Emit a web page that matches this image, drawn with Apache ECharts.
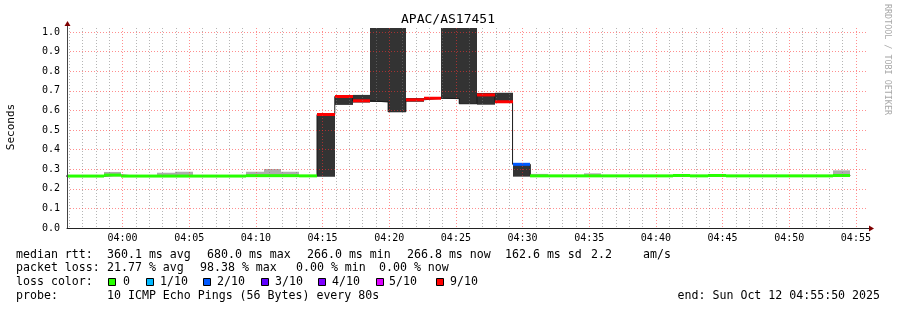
<!DOCTYPE html>
<html><head><meta charset="utf-8">
<script src="https://cdn.jsdelivr.net/npm/echarts@6/dist/echarts.min.js"></script>
<style>html,body{margin:0;padding:0;background:#fff}#c{width:897px;height:310px}</style>
</head><body><div id="c"></div>
<script>
// ---------------- data ----------------
const chartTitle = 'APAC/AS17451';
const windowStart = '03:55:50';
const windowEnd = '04:55:50';
const firstStep = '03:54:35';      // start of first 80 s probe round
const stepSeconds = 80;
const xTickLabels = ['04:00','04:05','04:10','04:15','04:20','04:25','04:30','04:35','04:40','04:45','04:50','04:55'];
const yTickValues = [0.0,0.1,0.2,0.3,0.4,0.5,0.6,0.7,0.8,0.9,1.0];

// median rtt per round (seconds)
const medianRtt = [
  0.265,0.265,0.265,0.270,0.265,0.265,0.265,0.265,0.265,0.265,0.265,0.267,0.267,0.267,0.266,
  0.579,0.671,0.649,0.643,0.593,0.654,0.662,0.660,0.634,0.679,0.644,0.325,
  0.266,0.266,0.266,0.266,0.266,0.266,0.266,0.266,0.268,0.266,0.268,0.266,0.266,0.266,0.266,0.266,0.266,0.268
];
// smoke (spread of the pings) per round, seconds
const smokeLow = [
  0.263,0.263,0.263,0.263,0.263,0.263,0.263,0.263,0.263,0.263,0.263,0.263,0.263,0.263,0.263,
  0.262,0.628,0.640,0.643,0.593,0.644,0.660,0.660,0.634,0.629,0.639,0.262,
  0.263,0.263,0.263,0.263,0.263,0.263,0.263,0.263,0.263,0.263,0.263,0.263,0.263,0.263,0.263,0.263,0.263,0.263
];
const smokeHigh = [
  0.268,0.268,0.268,0.286,0.268,0.268,0.282,0.287,0.268,0.268,0.268,0.287,0.301,0.287,0.268,
  0.580,0.673,0.679,1.500,1.500,0.663,0.668,1.500,1.500,0.689,0.690,0.325,
  0.276,0.268,0.268,0.279,0.268,0.268,0.268,0.268,0.268,0.268,0.268,0.268,0.268,0.268,0.268,0.268,0.268,0.294
];
// packet loss ratio per round
const lossRatio = [
  0,0,0,0,0,0,0,0,0,0,0,0,0,0,0,
  0.9,0.9,0.9,1.0,1.0,0.9,0.9,1.0,1.0,0.9,0.9,0.2,
  0,0,0,0,0,0,0,0,0,0,0,0,0,0,0,0,0,0
];
const lossLevels = [0, 0.1, 0.2, 0.3, 0.4, 0.5, 0.9];
const lossLabels = ['0','1/10','2/10','3/10','4/10','5/10','9/10'];
const lossColors = ['#26ff00','#00b8ff','#0059ff','#5e00ff','#7e00ff','#dd00ff','#ff0000'];

const rttStats = ['360.1 ms avg','680.0 ms max','266.0 ms min','266.8 ms now','162.6 ms sd','2.2','am/s'];
const lossStats = ['21.77 % avg','98.38 % max','0.00 % min','0.00 % now'];
const probeText = '10 ICMP Echo Pings (56 Bytes) every 80s';
const endText = 'end: Sun Oct 12 04:55:50 2025';
const watermark = 'RRDTOOL / TOBI OETIKER';

// ---------------- build ----------------
const MONO = '"DejaVu Sans Mono", monospace';
const toMin = s => { const p = s.split(':').map(Number); return p[0]*60 + p[1] + (p[2]||0)/60; };
const xMin = toMin(windowStart), xMax = toMin(windowEnd);
const stepMin = stepSeconds/60;
const t0 = toMin(firstStep);
const starts = medianRtt.map((_, i) => t0 + i*stepMin);
const majorTicks = xTickLabels.map(toMin);
const minorTicks = [];
for (let m = Math.ceil(xMin); m <= xMax; m++) if (m % 5 !== 0) minorTicks.push(m);

function lossColor(l){
  if (l >= 1) return null;
  let c = lossColors[0];
  for (let i = 0; i < lossLevels.length; i++) if (l >= lossLevels[i] - 1e-9) c = lossColors[i];
  return c;
}

const smokeData = starts.map((s,i) => [s, s+stepMin, smokeLow[i], smokeHigh[i], lossRatio[i]]);
const bandData = starts.map((s,i) => [s, s+stepMin, medianRtt[i], lossRatio[i]]);
const lineData = starts.map((s,i) => [s, medianRtt[i]]);
lineData.push([starts[starts.length-1] + stepMin, medianRtt[medianRtt.length-1]]);

function clip(shape, params){
  return echarts.graphic.clipRectByRect(shape, {
    x: params.coordSys.x, y: params.coordSys.y, width: params.coordSys.width, height: params.coordSys.height});
}

const gridRed = 'rgba(255,50,50,0.55)';
const gridGrey = 'rgba(120,120,120,0.55)';

const chart = echarts.init(document.getElementById('c'), null, {renderer:'canvas'});

const legendEls = [];
const txt = (t, x, y, extra) => Object.assign({type:'text', x, y, silent:true,
  style:{text:t, font:'11.6px ' + MONO, fill:'#000', align:'left', verticalAlign:'middle'}}, extra||{});
const rowY = [254.5, 268.2, 282.3, 296];
legendEls.push(txt('median rtt:', 16, rowY[0]));
const rttX = [107, 207, 307, 407, 505, 591, 643];
rttStats.forEach((t,i) => legendEls.push(txt(t, rttX[i], rowY[0])));
legendEls.push(txt('packet loss:', 16, rowY[1]));
const lossX = [107, 200, 296, 379];
lossStats.forEach((t,i) => legendEls.push(txt(t, lossX[i], rowY[1])));
legendEls.push(txt('loss color:', 16, rowY[2]));
const swX = [108.5, 146.5, 203.5, 261.5, 318.5, 376.5, 436.5];
const lblX = [123, 160, 217, 275, 332, 389, 450];
lossLabels.forEach((t,i) => {
  legendEls.push({type:'rect', silent:true, shape:{x:swX[i], y:278.5, width:7, height:7},
    style:{fill:lossColors[i], stroke:'#000', lineWidth:1}});
  legendEls.push(txt(t, lblX[i], rowY[2]));
});
legendEls.push(txt('probe:', 16, rowY[3]));
legendEls.push(txt(probeText, 107, rowY[3]));
legendEls.push(txt(endText, 880, rowY[3], {style:{text:endText, font:'11.6px ' + MONO, fill:'#000', align:'right', verticalAlign:'middle'}}));

// title, axis label, watermark, axis arrows
legendEls.push({type:'text', x:448, y:19.5, silent:true,
  style:{text:chartTitle, font:'13px ' + MONO, fill:'#000', align:'center', verticalAlign:'middle'}});
legendEls.push({type:'text', x:11, y:127, rotation:Math.PI/2, silent:true,
  style:{text:'Seconds', font:'11px ' + MONO, fill:'#000', align:'center', verticalAlign:'middle'}});
legendEls.push({type:'text', x:887.5, y:59.5, rotation:-Math.PI/2, silent:true,
  style:{text:watermark, font:'8.4px ' + MONO, fill:'#a8a8a8', align:'center', verticalAlign:'middle'}});
legendEls.push({type:'line', silent:true, z:20, shape:{x1:67.5, y1:28, x2:67.5, y2:25}, style:{stroke:'#444', lineWidth:1}});
legendEls.push({type:'line', silent:true, z:20, shape:{x1:867, y1:228.5, x2:870, y2:228.5}, style:{stroke:'#222', lineWidth:1}});
legendEls.push({type:'polygon', silent:true, z:20, shape:{points:[[64.5,26],[70.5,26],[67.5,21]]}, style:{fill:'#7f0000'}});
legendEls.push({type:'polygon', silent:true, z:20, shape:{points:[[869,225.5],[869,231.5],[874,228.5]]}, style:{fill:'#7f0000'}});

const option = {
  animation: false,
  backgroundColor: '#ffffff',
  grid: {left:67, top:28, width:800, height:200, containLabel:false},
  xAxis: [
    {type:'value', min:xMin, max:xMax, z:10, position:'bottom',
     axisLine:{show:true, onZero:false, lineStyle:{color:'#222', width:1}},
     axisTick:{show:false, customValues:majorTicks},
     axisLabel:{customValues:majorTicks, color:'#000', fontFamily:MONO, fontSize:10, margin:5,
       formatter: v => { const i = majorTicks.findIndex(t => Math.abs(t - v) < 1e-6); return i >= 0 ? xTickLabels[i] : ''; }},
     splitLine:{show:true, lineStyle:{color:gridRed, width:1, type:[1,2]}}},
    {type:'value', min:xMin, max:xMax, z:9, position:'top',
     axisLine:{show:false}, axisTick:{show:false, customValues:minorTicks},
     axisLabel:{show:false, customValues:minorTicks},
     splitLine:{show:true, lineStyle:{color:gridGrey, width:1, type:[1,2]}}}
  ],
  yAxis: {type:'value', min:0, max:200/196, z:10,
    axisLine:{show:true, onZero:false, lineStyle:{color:'#444', width:1}},
    axisTick:{show:false, customValues:yTickValues},
    axisLabel:{customValues:yTickValues, color:'#000', fontFamily:MONO, fontSize:10, margin:7,
      formatter: v => v.toFixed(1)},
    splitLine:{show:true, lineStyle:{color:gridRed, width:1, type:[1,2]}}},
  series: [
    {type:'custom', name:'smoke', z:1, xAxisIndex:0, data:smokeData,
     renderItem:(params, api) => {
       const a = api.coord([api.value(0), api.value(3)]);
       const b = api.coord([api.value(1), api.value(2)]);
       const x0 = Math.round(a[0]), x1 = Math.round(b[0]);
       const shape = clip({x:x0, y:a[1], width:x1-x0, height:b[1]-a[1]}, params);
       if (!shape) return null;
       return {type:'rect', shape, style:{fill: api.value(4) > 0 ? '#333333' : '#adadad'}};
     }},
    {type:'line', name:'median', z:2, xAxisIndex:0, data:lineData, step:'end', symbol:'none',
     lineStyle:{color:'#1a1a1a', width:1}, silent:true},
    {type:'custom', name:'median loss', z:3, xAxisIndex:0, data:bandData,
     renderItem:(params, api) => {
       const col = lossColor(api.value(3));
       if (!col) return null;
       const a = api.coord([api.value(0), api.value(2)]);
       const b = api.coord([api.value(1), api.value(2)]);
       const x0 = Math.round(a[0]), x1 = Math.round(b[0]);
       const shape = clip({x:x0, y:a[1]-1.5, width:x1-x0, height:3}, params);
       if (!shape) return null;
       return {type:'rect', shape, style:{fill:col}};
     }}
  ],
  graphic: legendEls
};
chart.setOption(option);
</script></body></html>
